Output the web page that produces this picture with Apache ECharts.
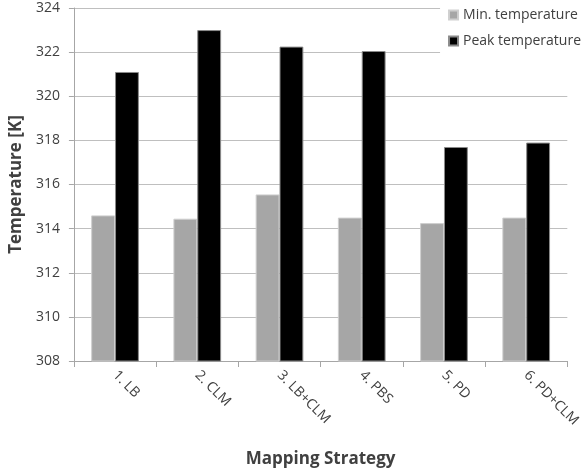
<!DOCTYPE html>
<html>
<head>
<meta charset="utf-8">
<script src="https://cdn.jsdelivr.net/npm/echarts@6/dist/echarts.min.js"></script>
<style>html,body{margin:0;padding:0;background:#fff}#c{width:582px;height:474px}</style>
</head>
<body>
<div id="c"></div>
<script>
var categories = ["1. LB", "2. CLM", "3. LB+CLM", "4. PBS", "5. PD", "6. PD+CLM"];
var minTemp = [314.6, 314.45, 315.55, 314.5, 314.25, 314.5];
var peakTemp = [321.1, 323.0, 322.25, 322.05, 317.7, 317.9];
var seriesNames = ["Min. temperature", "Peak temperature"];
var yTicks = { min: 308, max: 324, interval: 2 };

var chart = echarts.init(document.getElementById('c'));
var font = "'Open Sans', 'Noto Sans', sans-serif";
chart.setOption({
  animation: false,
  backgroundColor: '#ffffff',
  textStyle: { fontFamily: font },
  grid: { left: 73, right: 1, top: 8, bottom: 113, containLabel: false },
  legend: {
    orient: 'vertical',
    right: 0,
    top: 6,
    padding: [2, 1, 8, 8],
    backgroundColor: '#ffffff',
    itemWidth: 9,
    itemHeight: 9,
    itemGap: 12,
    icon: 'rect',
    data: seriesNames,
    textStyle: { fontFamily: font, fontSize: 14, color: '#404040', padding: [0, 0, 0, 0] }
  },
  xAxis: {
    type: 'category',
    data: categories,
    name: 'Mapping Strategy',
    nameLocation: 'middle',
    nameGap: 90,
    nameTextStyle: { fontFamily: font, fontSize: 17, fontWeight: 'bold', color: '#404040' },
    axisLine: { show: true, lineStyle: { color: '#a6a6a6', width: 1 } },
    axisTick: { show: true, alignWithLabel: false, length: 6, lineStyle: { color: '#a6a6a6' } },
    axisLabel: { rotate: -45, fontFamily: font, fontSize: 14, color: '#404040', margin: 12 }
  },
  yAxis: {
    type: 'value',
    min: yTicks.min,
    max: yTicks.max,
    interval: yTicks.interval,
    name: 'Temperature [K]',
    nameLocation: 'middle',
    nameGap: 44,
    nameTextStyle: { fontFamily: font, fontSize: 17, fontWeight: 'bold', color: '#404040' },
    axisLine: { show: true, lineStyle: { color: '#a6a6a6', width: 1 } },
    axisTick: { show: true, length: 5, lineStyle: { color: '#a6a6a6' } },
    splitLine: { show: true, lineStyle: { color: '#bfbfbf', width: 1 } },
    axisLabel: { fontFamily: font, fontSize: 14, color: '#404040', margin: 14 }
  },
  series: [
    {
      name: seriesNames[0],
      type: 'bar',
      data: minTemp,
      barGap: '0%',
      barCategoryGap: '42%',
      itemStyle: { color: '#a6a6a6', borderColor: '#cfcfcf', borderWidth: 1 }
    },
    {
      name: seriesNames[1],
      type: 'bar',
      data: peakTemp,
      barGap: '0%',
      barCategoryGap: '42%',
      itemStyle: { color: '#000000', borderColor: '#8a8a8a', borderWidth: 1 }
    }
  ]
});
</script>
</body>
</html>
